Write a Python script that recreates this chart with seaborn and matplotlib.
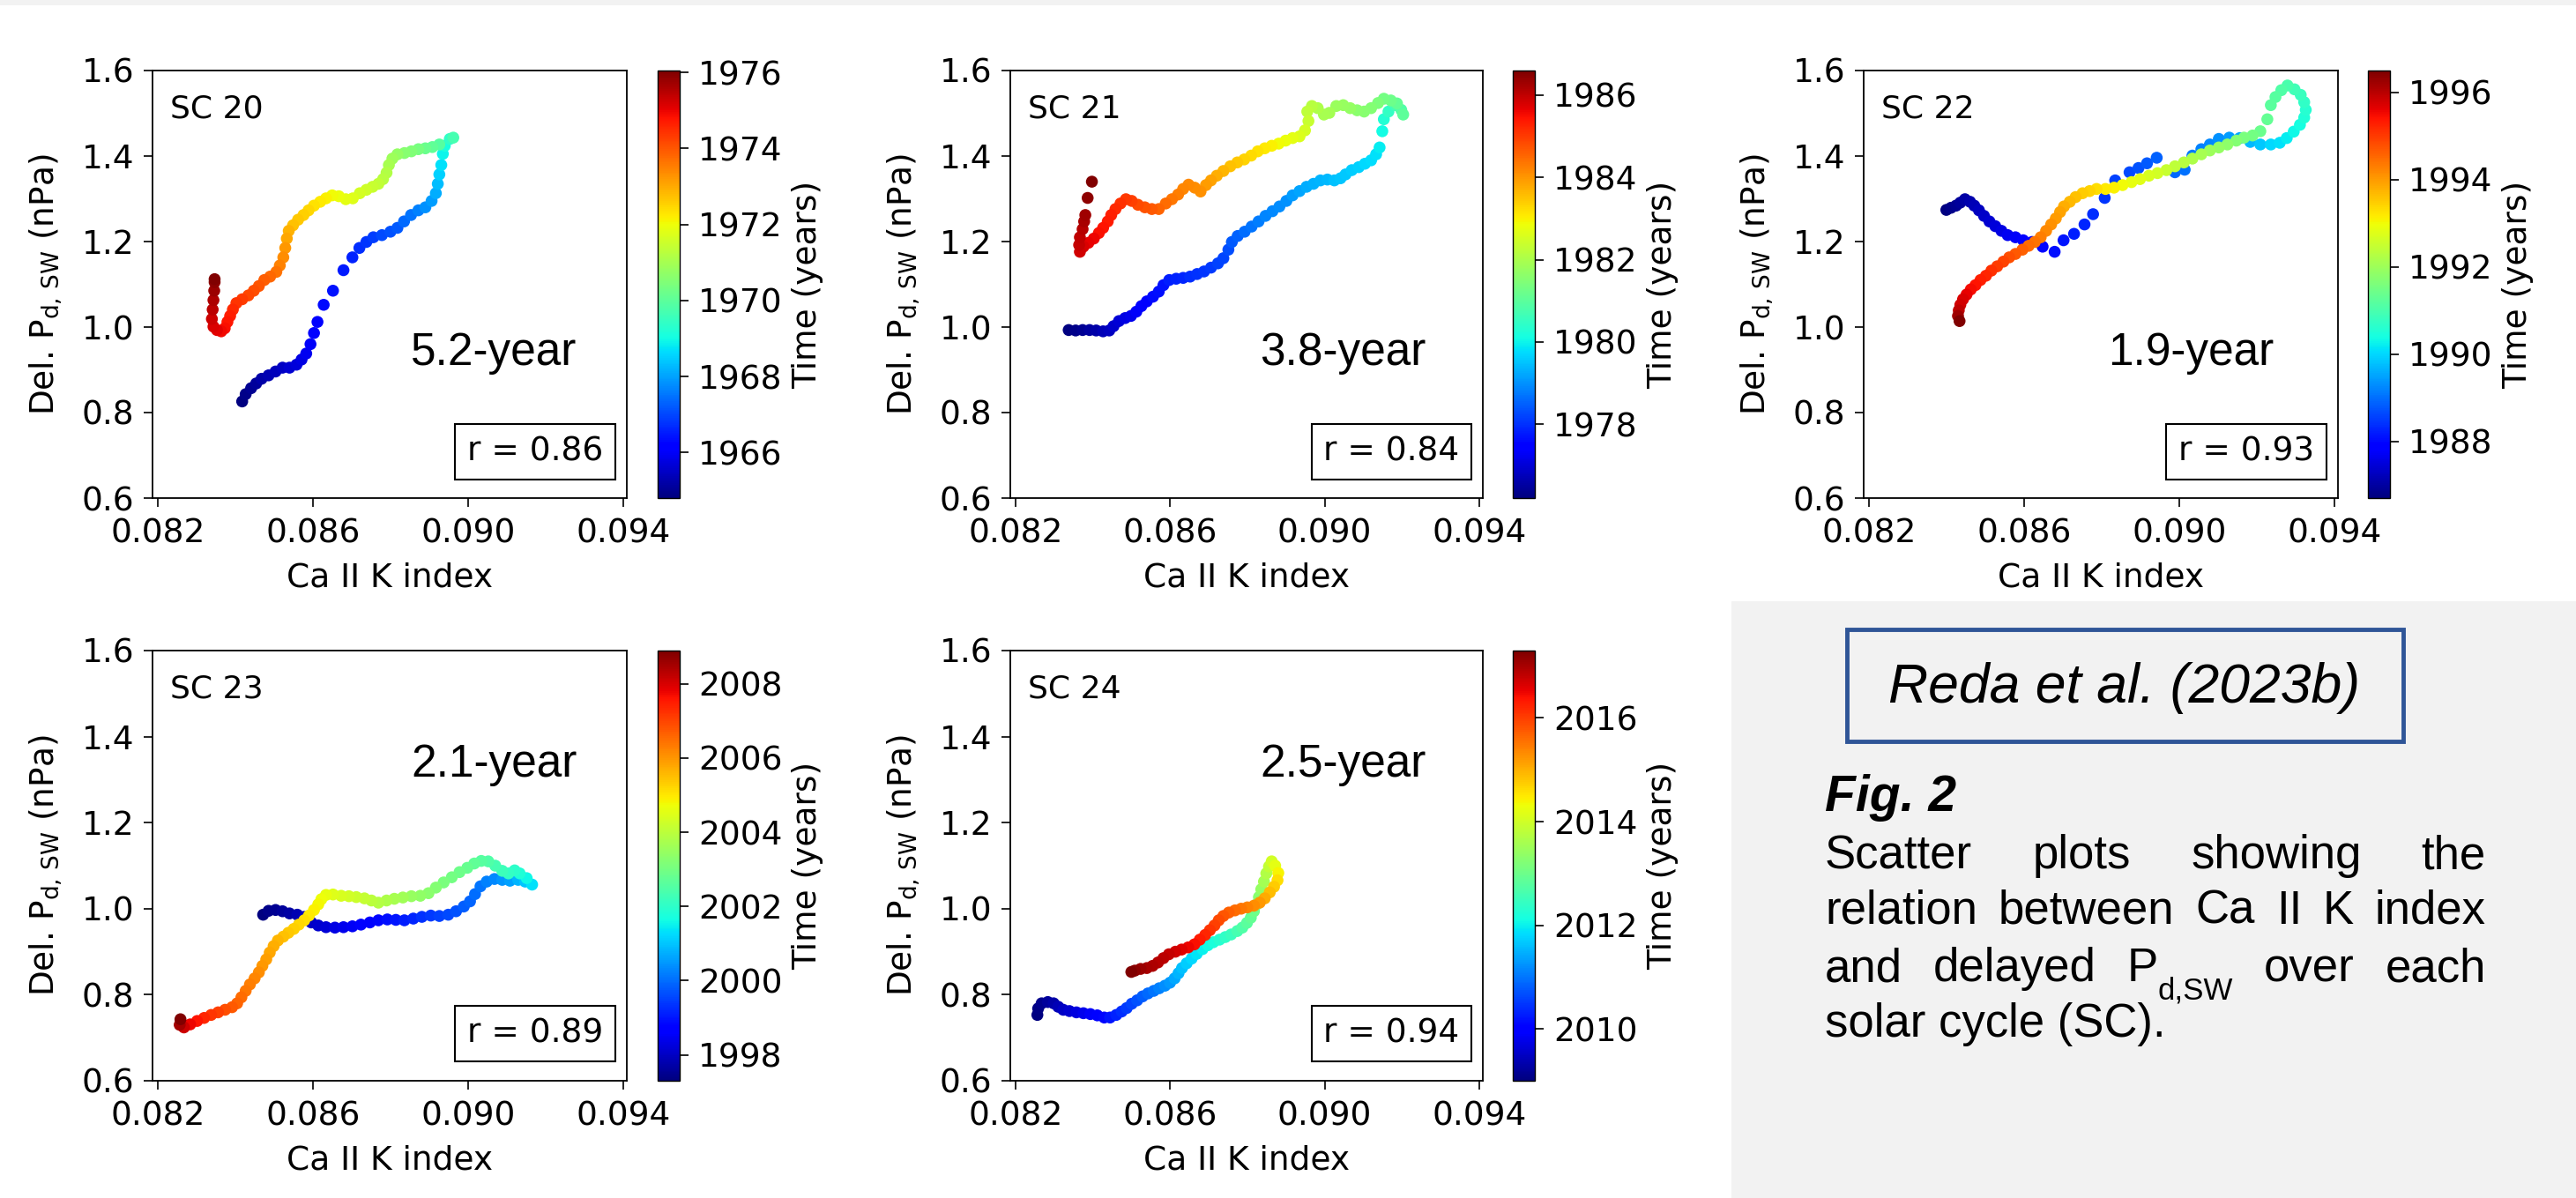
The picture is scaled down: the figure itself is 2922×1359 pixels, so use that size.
import numpy as np
import pandas as pd
import matplotlib
matplotlib.use("Agg")
import matplotlib.pyplot as plt
import seaborn as sns
from matplotlib.colors import Normalize
from matplotlib.cm import ScalarMappable
from matplotlib.patches import Rectangle
from matplotlib.ticker import FormatStrFormatter


# ---- data (Ca II K index, delayed Pd,SW in nPa, time in years) ----

sc20_ca = [0.08418, 0.08427, 0.08441, 0.08454, 0.08468, 0.08486, 0.08504, 0.08522, 0.08540, 0.08558,
           0.08571, 0.08583, 0.08594, 0.08603, 0.08612, 0.08628, 0.08652, 0.08679, 0.08702, 0.08720,
           0.08738, 0.08756, 0.08778, 0.08800, 0.08818, 0.08835, 0.08853, 0.08872, 0.08890, 0.08906,
           0.08917, 0.08922, 0.08926, 0.08931, 0.08935, 0.08940, 0.08953, 0.08962,
           0.08926, 0.08908, 0.08890, 0.08872, 0.08854, 0.08836, 0.08818, 0.08805, 0.08796, 0.08790,
           0.08781, 0.08769, 0.08754, 0.08738, 0.08721, 0.08703, 0.08685, 0.08667, 0.08650, 0.08634,
           0.08619, 0.08603, 0.08589, 0.08576, 0.08562, 0.08549, 0.08538, 0.08533, 0.08529, 0.08524,
           0.08515, 0.08506, 0.08490, 0.08475, 0.08461, 0.08448, 0.08434, 0.08418, 0.08403, 0.08394,
           0.08387, 0.08380, 0.08373, 0.08364, 0.08353, 0.08344, 0.08340, 0.08342, 0.08344, 0.08346,
           0.08347, 0.08347]
sc20_pd = [0.826, 0.843, 0.857, 0.868, 0.879, 0.887, 0.896, 0.905, 0.905, 0.912,
           0.924, 0.938, 0.960, 0.986, 1.012, 1.052, 1.085, 1.133, 1.163, 1.185,
           1.199, 1.210, 1.215, 1.223, 1.232, 1.247, 1.262, 1.273, 1.280, 1.295,
           1.313, 1.335, 1.357, 1.379, 1.405, 1.424, 1.440, 1.443,
           1.427, 1.421, 1.418, 1.416, 1.411, 1.407, 1.404, 1.394, 1.379, 1.361,
           1.346, 1.335, 1.328, 1.321, 1.313, 1.301, 1.299, 1.306, 1.308, 1.301,
           1.293, 1.284, 1.273, 1.262, 1.251, 1.238, 1.225, 1.207, 1.185, 1.163,
           1.144, 1.129, 1.118, 1.110, 1.096, 1.085, 1.074, 1.065, 1.056, 1.041,
           1.026, 1.012, 0.997, 0.990, 0.993, 1.001, 1.019, 1.041, 1.063, 1.085,
           1.105, 1.112]
sc20_t = [1964.8, 1964.9, 1965.0, 1965.1, 1965.2, 1965.3, 1965.4, 1965.5, 1965.6, 1965.7,
          1965.8, 1965.9, 1966.0, 1966.1, 1966.2, 1966.3, 1966.4, 1966.5, 1966.6, 1966.7,
          1966.8, 1966.9, 1967.0, 1967.1, 1967.2, 1967.35, 1967.5, 1967.65, 1967.8, 1967.95,
          1968.1, 1968.3, 1968.5, 1968.7, 1968.9, 1969.1, 1969.4, 1969.7,
          1969.9, 1970.05, 1970.2, 1970.35, 1970.5, 1970.6, 1970.75, 1970.9, 1971.0, 1971.15,
          1971.25, 1971.35, 1971.45, 1971.55, 1971.65, 1971.75, 1971.85, 1971.95, 1972.05, 1972.15,
          1972.25, 1972.35, 1972.45, 1972.55, 1972.65, 1972.75, 1972.9, 1973.05, 1973.2, 1973.35,
          1973.5, 1973.65, 1973.8, 1973.9, 1974.0, 1974.1, 1974.2, 1974.3, 1974.4, 1974.55,
          1974.65, 1974.75, 1974.85, 1974.95, 1975.05, 1975.15, 1975.3, 1975.45, 1975.6, 1975.75,
          1975.9, 1976.05]

sc21_ca = [0.08338, 0.08356, 0.08374, 0.08392, 0.08409, 0.08427, 0.08443, 0.08454, 0.08468, 0.08484,
           0.08499, 0.08513, 0.08526, 0.08540, 0.08556, 0.08571, 0.08583, 0.08598, 0.08616, 0.08634,
           0.08652, 0.08670, 0.08688, 0.08706, 0.08724, 0.08738, 0.08751, 0.08760, 0.08775, 0.08793,
           0.08811, 0.08829, 0.08847, 0.08865, 0.08883, 0.08901, 0.08917, 0.08935, 0.08953, 0.08971,
           0.08989, 0.09007, 0.09025, 0.09041, 0.09054, 0.09070, 0.09088, 0.09104, 0.09120, 0.09133,
           0.09142, 0.09149, 0.09153, 0.09165, 0.09183, 0.09198, 0.09203,
           0.09187, 0.09171, 0.09153, 0.09138, 0.09120, 0.09102, 0.09084, 0.09066, 0.09048, 0.09030,
           0.09012, 0.08998, 0.08982, 0.08967, 0.08955, 0.08958, 0.08949, 0.08935, 0.08917, 0.08899,
           0.08881, 0.08863, 0.08845, 0.08827, 0.08810, 0.08792, 0.08774, 0.08756, 0.08738, 0.08721,
           0.08706, 0.08693, 0.08679, 0.08664, 0.08648, 0.08634, 0.08621, 0.08605, 0.08589, 0.08571,
           0.08553, 0.08535, 0.08517, 0.08501, 0.08486, 0.08472, 0.08459, 0.08448, 0.08439, 0.08427,
           0.08416, 0.08403, 0.08389, 0.08376, 0.08367, 0.08365, 0.08367, 0.08374, 0.08378, 0.08381,
           0.08387, 0.08398]
sc21_pd = [0.993, 0.992, 0.993, 0.993, 0.992, 0.990, 0.992, 1.002, 1.014, 1.021,
           1.026, 1.036, 1.049, 1.060, 1.071, 1.083, 1.098, 1.110, 1.113, 1.115,
           1.118, 1.124, 1.130, 1.139, 1.149, 1.161, 1.181, 1.199, 1.213, 1.223,
           1.235, 1.247, 1.260, 1.271, 1.282, 1.295, 1.308, 1.318, 1.328, 1.335,
           1.343, 1.345, 1.343, 1.348, 1.357, 1.367, 1.374, 1.382, 1.390, 1.404,
           1.420, 1.458, 1.486, 1.504, 1.519, 1.508, 1.497,
           1.523, 1.530, 1.534, 1.524, 1.512, 1.504, 1.507, 1.512, 1.519, 1.517,
           1.501, 1.497, 1.512, 1.517, 1.504, 1.482, 1.460, 1.446, 1.442, 1.436,
           1.429, 1.424, 1.418, 1.411, 1.401, 1.392, 1.385, 1.376, 1.365, 1.354,
           1.343, 1.332, 1.317, 1.326, 1.333, 1.323, 1.310, 1.299, 1.289, 1.276,
           1.276, 1.280, 1.286, 1.295, 1.299, 1.289, 1.276, 1.262, 1.247, 1.232,
           1.220, 1.207, 1.197, 1.188, 1.176, 1.192, 1.210, 1.229, 1.247, 1.262,
           1.302, 1.340]
sc21_t = [1976.2, 1976.3, 1976.4, 1976.5, 1976.6, 1976.7, 1976.8, 1976.9, 1977.0, 1977.1,
          1977.2, 1977.3, 1977.4, 1977.5, 1977.6, 1977.65, 1977.7, 1977.8, 1977.85, 1977.9,
          1977.95, 1978.0, 1978.05, 1978.1, 1978.15, 1978.2, 1978.3, 1978.4, 1978.5, 1978.6,
          1978.7, 1978.8, 1978.85, 1978.9, 1978.95, 1979.0, 1979.1, 1979.2, 1979.25, 1979.3,
          1979.35, 1979.4, 1979.45, 1979.5, 1979.55, 1979.6, 1979.65, 1979.7, 1979.75, 1979.8,
          1979.9, 1980.1, 1980.3, 1980.5, 1980.7, 1980.85, 1981.0,
          1981.1, 1981.2, 1981.3, 1981.4, 1981.5, 1981.55, 1981.6, 1981.7, 1981.75, 1981.8,
          1981.9, 1981.95, 1982.05, 1982.15, 1982.25, 1982.35, 1982.5, 1982.6, 1982.7, 1982.8,
          1982.9, 1983.0, 1983.1, 1983.15, 1983.25, 1983.35, 1983.45, 1983.55, 1983.65, 1983.75,
          1983.85, 1983.95, 1984.05, 1984.1, 1984.15, 1984.2, 1984.25, 1984.35, 1984.45, 1984.55,
          1984.65, 1984.75, 1984.85, 1984.95, 1985.05, 1985.1, 1985.2, 1985.3, 1985.35, 1985.45,
          1985.5, 1985.6, 1985.65, 1985.75, 1985.85, 1985.95, 1986.0, 1986.1, 1986.2, 1986.3,
          1986.45, 1986.6]

sc22_ca = [0.08400, 0.08412, 0.08425, 0.08436, 0.08448, 0.08461, 0.08472, 0.08484, 0.08497, 0.08511,
           0.08526, 0.08542, 0.08558, 0.08578, 0.08598, 0.08621, 0.08648, 0.08679, 0.08702, 0.08729,
           0.08756, 0.08778, 0.08808, 0.08835, 0.08872, 0.08895, 0.08917, 0.08942, 0.08989, 0.09014,
           0.09034, 0.09057, 0.09079, 0.09102, 0.09129, 0.09156, 0.09183, 0.09209, 0.09236, 0.09259,
           0.09277, 0.09295, 0.09311, 0.09322, 0.09326, 0.09322, 0.09313, 0.09297, 0.09279, 0.09263,
           0.09248, 0.09236, 0.09227, 0.09209, 0.09189, 0.09167, 0.09147, 0.09124, 0.09102, 0.09079,
           0.09057, 0.09034, 0.09012, 0.08989, 0.08967, 0.08944, 0.08922, 0.08899, 0.08877, 0.08854,
           0.08832, 0.08810, 0.08787, 0.08769, 0.08751, 0.08733, 0.08718, 0.08703, 0.08693, 0.08682,
           0.08670, 0.08657, 0.08643, 0.08628, 0.08612, 0.08596, 0.08578, 0.08562, 0.08547, 0.08531,
           0.08516, 0.08502, 0.08488, 0.08475, 0.08463, 0.08452, 0.08443, 0.08436, 0.08432, 0.08430,
           0.08434]
sc22_pd = [1.274, 1.279, 1.284, 1.291, 1.299, 1.293, 1.284, 1.273, 1.260, 1.247,
           1.236, 1.225, 1.215, 1.210, 1.203, 1.199, 1.188, 1.176, 1.203, 1.218,
           1.240, 1.264, 1.302, 1.343, 1.362, 1.372, 1.383, 1.396, 1.362, 1.368,
           1.401, 1.416, 1.427, 1.440, 1.443, 1.442, 1.433, 1.427, 1.427, 1.431,
           1.442, 1.457, 1.473, 1.490, 1.508, 1.526, 1.543, 1.556, 1.565, 1.554,
           1.538, 1.519, 1.486, 1.458, 1.448, 1.443, 1.436, 1.427, 1.420, 1.413,
           1.404, 1.394, 1.385, 1.376, 1.367, 1.360, 1.354, 1.346, 1.339, 1.332,
           1.326, 1.323, 1.323, 1.318, 1.313, 1.304, 1.293, 1.282, 1.269, 1.254,
           1.240, 1.225, 1.210, 1.199, 1.190, 1.181, 1.171, 1.163, 1.153, 1.142,
           1.132, 1.120, 1.110, 1.098, 1.088, 1.076, 1.065, 1.052, 1.039, 1.026,
           1.014]
sc22_t = [1986.7, 1986.78, 1986.86, 1986.94, 1987.02, 1987.1, 1987.18, 1987.26, 1987.34, 1987.42,
          1987.5, 1987.58, 1987.66, 1987.74, 1987.82, 1987.9, 1987.98, 1988.06, 1988.14, 1988.22,
          1988.3, 1988.38, 1988.46, 1988.54, 1988.62, 1988.7, 1988.78, 1988.86, 1988.94, 1989.02,
          1989.1, 1989.18, 1989.26, 1989.34, 1989.45, 1989.55, 1989.7, 1989.85, 1990.0, 1990.1,
          1990.2, 1990.3, 1990.4, 1990.5, 1990.6, 1990.7, 1990.8, 1990.9, 1991.0, 1991.1,
          1991.15, 1991.2, 1991.3, 1991.4, 1991.5, 1991.6, 1991.7, 1991.8, 1991.9, 1992.0,
          1992.1, 1992.2, 1992.3, 1992.4, 1992.5, 1992.6, 1992.7, 1992.8, 1992.9, 1993.0,
          1993.1, 1993.2, 1993.3, 1993.4, 1993.5, 1993.6, 1993.7, 1993.8, 1993.9, 1994.0,
          1994.1, 1994.2, 1994.3, 1994.4, 1994.5, 1994.6, 1994.7, 1994.8, 1994.9, 1995.0,
          1995.1, 1995.2, 1995.3, 1995.4, 1995.5, 1995.6, 1995.7, 1995.8, 1995.95, 1996.2,
          1996.5]

sc23_ca = [0.08472, 0.08486, 0.08504, 0.08522, 0.08540, 0.08560, 0.08578, 0.08596, 0.08614, 0.08634,
           0.08657, 0.08679, 0.08702, 0.08724, 0.08747, 0.08769, 0.08792, 0.08814, 0.08836, 0.08859,
           0.08881, 0.08904, 0.08926, 0.08949, 0.08969, 0.08989, 0.09005, 0.09018, 0.09032, 0.09048,
           0.09068, 0.09088, 0.09108, 0.09129, 0.09147, 0.09165,
           0.09151, 0.09133, 0.09120, 0.09104, 0.09088, 0.09070, 0.09052, 0.09034, 0.09016, 0.08998,
           0.08978, 0.08958, 0.08937, 0.08917, 0.08898, 0.08877, 0.08854, 0.08832, 0.08810, 0.08790,
           0.08769, 0.08751, 0.08733, 0.08712, 0.08693, 0.08673, 0.08652, 0.08634, 0.08622, 0.08614,
           0.08603, 0.08590, 0.08578, 0.08564, 0.08551, 0.08537, 0.08524, 0.08510, 0.08499, 0.08489,
           0.08480, 0.08470, 0.08461, 0.08450, 0.08438, 0.08427, 0.08416, 0.08405, 0.08392, 0.08374,
           0.08356, 0.08338, 0.08320, 0.08302, 0.08284, 0.08268, 0.08257, 0.08259]
sc23_pd = [0.986, 0.995, 0.997, 0.994, 0.989, 0.986, 0.981, 0.968, 0.961, 0.957,
           0.956, 0.957, 0.959, 0.963, 0.968, 0.973, 0.975, 0.974, 0.973, 0.977,
           0.981, 0.984, 0.983, 0.986, 0.994, 1.005, 1.017, 1.034, 1.052, 1.063,
           1.069, 1.067, 1.065, 1.067, 1.063, 1.056,
           1.071, 1.082, 1.089, 1.082, 1.088, 1.100, 1.110, 1.111, 1.105, 1.095,
           1.085, 1.073, 1.061, 1.049, 1.036, 1.030, 1.029, 1.026, 1.023, 1.019,
           1.014, 1.019, 1.024, 1.027, 1.029, 1.030, 1.033, 1.032, 1.022, 1.010,
           0.997, 0.984, 0.973, 0.963, 0.953, 0.944, 0.935, 0.926, 0.913, 0.898,
           0.882, 0.867, 0.852, 0.838, 0.824, 0.809, 0.794, 0.780, 0.771, 0.765,
           0.759, 0.753, 0.746, 0.739, 0.731, 0.724, 0.730, 0.743]
sc23_t = [1997.3, 1997.4, 1997.5, 1997.6, 1997.7, 1997.8, 1997.9, 1998.0, 1998.1, 1998.2,
          1998.3, 1998.4, 1998.5, 1998.6, 1998.7, 1998.8, 1998.9, 1999.0, 1999.1, 1999.2,
          1999.3, 1999.4, 1999.5, 1999.6, 1999.7, 1999.8, 1999.9, 2000.0, 2000.1, 2000.2,
          2000.3, 2000.45, 2000.6, 2000.8, 2001.0, 2001.3,
          2001.6, 2001.8, 2002.0, 2002.1, 2002.2, 2002.35, 2002.5, 2002.6, 2002.7, 2002.8,
          2002.9, 2003.0, 2003.1, 2003.2, 2003.3, 2003.4, 2003.5, 2003.6, 2003.7, 2003.8,
          2003.9, 2004.0, 2004.1, 2004.2, 2004.3, 2004.4, 2004.5, 2004.6, 2004.7, 2004.8,
          2004.9, 2005.0, 2005.1, 2005.2, 2005.3, 2005.4, 2005.5, 2005.6, 2005.7, 2005.8,
          2005.9, 2006.0, 2006.1, 2006.2, 2006.3, 2006.4, 2006.5, 2006.6, 2006.75, 2006.9,
          2007.05, 2007.2, 2007.4, 2007.6, 2007.8, 2008.1, 2008.5, 2008.9]

sc24_ca = [0.08257, 0.08259, 0.08268, 0.08284, 0.08299, 0.08311, 0.08324, 0.08340, 0.08358, 0.08376,
           0.08394, 0.08412, 0.08430, 0.08445, 0.08461, 0.08475, 0.08488, 0.08501, 0.08515, 0.08529,
           0.08543, 0.08558, 0.08572, 0.08587, 0.08600, 0.08612, 0.08622, 0.08631, 0.08643, 0.08656,
           0.08669, 0.08684, 0.08698, 0.08712, 0.08728, 0.08743, 0.08758, 0.08774, 0.08787, 0.08799,
           0.08809, 0.08817, 0.08824, 0.08830, 0.08836, 0.08843, 0.08849, 0.08856, 0.08863, 0.08872,
           0.08880, 0.08878, 0.08869, 0.08858, 0.08845, 0.08832, 0.08817, 0.08800, 0.08784, 0.08768,
           0.08752, 0.08738, 0.08726, 0.08715, 0.08703, 0.08691, 0.08677, 0.08663, 0.08647, 0.08630,
           0.08614, 0.08597, 0.08583, 0.08569, 0.08555, 0.08540, 0.08524, 0.08509, 0.08500]
sc24_pd = [0.753, 0.768, 0.780, 0.783, 0.780, 0.772, 0.765, 0.762, 0.759, 0.757,
           0.755, 0.752, 0.747, 0.747, 0.753, 0.761, 0.769, 0.779, 0.787, 0.796,
           0.803, 0.809, 0.815, 0.821, 0.828, 0.838, 0.850, 0.862, 0.873, 0.884,
           0.895, 0.906, 0.915, 0.922, 0.928, 0.934, 0.940, 0.948, 0.956, 0.967,
           0.979, 0.994, 1.010, 1.027, 1.045, 1.063, 1.082, 1.098, 1.110, 1.100,
           1.083, 1.066, 1.051, 1.038, 1.024, 1.014, 1.007, 1.003, 1.000, 0.996,
           0.991, 0.983, 0.973, 0.961, 0.950, 0.939, 0.928, 0.917, 0.910, 0.905,
           0.900, 0.894, 0.885, 0.875, 0.867, 0.862, 0.860, 0.856, 0.853]
sc24_t = [2009.0, 2009.05, 2009.1, 2009.2, 2009.3, 2009.4, 2009.5, 2009.6, 2009.7, 2009.8,
          2009.9, 2010.0, 2010.1, 2010.2, 2010.3, 2010.4, 2010.5, 2010.6, 2010.7, 2010.8,
          2010.9, 2011.0, 2011.1, 2011.2, 2011.3, 2011.4, 2011.5, 2011.6, 2011.7, 2011.8,
          2011.9, 2012.0, 2012.1, 2012.2, 2012.3, 2012.4, 2012.5, 2012.6, 2012.7, 2012.8,
          2012.9, 2013.0, 2013.1, 2013.25, 2013.4, 2013.55, 2013.7, 2013.85, 2014.0, 2014.2,
          2014.4, 2014.6, 2014.75, 2014.9, 2015.05, 2015.2, 2015.3, 2015.4, 2015.5, 2015.6,
          2015.7, 2015.8, 2015.9, 2016.0, 2016.1, 2016.2, 2016.3, 2016.4, 2016.5, 2016.6,
          2016.7, 2016.8, 2016.85, 2016.9, 2016.95, 2017.0, 2017.1, 2017.2, 2017.3]

cycle_names = ["SC 20", "SC 21", "SC 22", "SC 23", "SC 24"]
periods = ["5.2-year", "3.8-year", "1.9-year", "2.1-year", "2.5-year"]
r_values = [0.86, 0.84, 0.93, 0.89, 0.94]
cbar_ticks = [[1966, 1968, 1970, 1972, 1974, 1976],
              [1978, 1980, 1982, 1984, 1986],
              [1988, 1990, 1992, 1994, 1996],
              [1998, 2000, 2002, 2004, 2006, 2008],
              [2010, 2012, 2014, 2016]]
x_ticks = [0.082, 0.086, 0.090, 0.094]
y_ticks = [0.6, 0.8, 1.0, 1.2, 1.4, 1.6]

citation = "Reda et al. (2023b)"
fig_title = "Fig. 2"
caption_lines = [["Scatter", "plots", "showing", "the"],
                 ["relation", "between", "Ca", "II", "K", "index"],
                 ["and", "delayed", ("P", "d,SW"), "over", "each"]]
caption_last = "solar cycle (SC)."

ca_all = [sc20_ca, sc21_ca, sc22_ca, sc23_ca, sc24_ca]
pd_all = [sc20_pd, sc21_pd, sc22_pd, sc23_pd, sc24_pd]
t_all = [sc20_t, sc21_t, sc22_t, sc23_t, sc24_t]


# ---- style ----
sns.set_style("ticks", {"axes.edgecolor": "black", "xtick.color": "black",
                        "ytick.color": "black", "text.color": "black",
                        "axes.labelcolor": "black"})
plt.rcParams["font.family"] = ["DejaVu Sans"]
plt.rcParams["mathtext.fontset"] = "dejavusans"

jet = matplotlib.colormaps["jet"]

W, H = 2922, 1359
fig = plt.figure(figsize=(W / 100, H / 100), dpi=100)
fig.patch.set_facecolor("white")

# panel boxes in pixels (left, top, right, bottom) and colorbar left edges
boxes = [(173, 80, 711, 565), (1146, 80, 1682, 565), (2114, 80, 2652, 565),
         (173, 738, 711, 1226), (1146, 738, 1682, 1226)]
cbar_left = [746, 1716, 2686, 746, 1716]
period_pos = [(0.545, 0.311), (0.528, 0.311), (0.515, 0.311), (0.545, 0.707), (0.528, 0.707)]

FS = 27

for i in range(5):
    x0, y0, x1, y1 = boxes[i]
    ax = fig.add_axes([x0 / W, 1 - y1 / H, (x1 - x0) / W, (y1 - y0) / H])
    df = pd.DataFrame({"ca": ca_all[i], "pd": pd_all[i], "t": t_all[i]})
    norm = Normalize(df["t"].min(), df["t"].max())

    sns.scatterplot(data=df, x="ca", y="pd", hue="t", palette=jet, hue_norm=norm,
                    s=95, linewidth=0, legend=False, ax=ax)

    ax.set_xlim(0.08187, 0.09409)
    ax.set_ylim(0.6, 1.6)
    ax.set_xticks(x_ticks)
    ax.set_yticks(y_ticks)
    ax.xaxis.set_major_formatter(FormatStrFormatter("%.3f"))
    ax.yaxis.set_major_formatter(FormatStrFormatter("%.1f"))
    ax.tick_params(axis="both", direction="out", length=7, width=1.2, labelsize=FS)
    ax.tick_params(axis="x", pad=9)
    ax.tick_params(axis="y", pad=8)
    for sp in ax.spines.values():
        sp.set_linewidth(1.3)
        sp.set_color("black")

    ax.set_xlabel("Ca II K index", fontsize=FS, labelpad=10)
    ax.set_ylabel(r"Del. P$_{\mathrm{d,\,SW}}$ (nPa)", fontsize=FS, labelpad=14)

    ax.text(0.037, 0.89, cycle_names[i], transform=ax.transAxes, fontsize=FS - 1,
            ha="left", va="baseline")
    px, py = period_pos[i]
    ax.text(px, py, periods[i], transform=ax.transAxes, fontsize=37,
            family="Liberation Sans", ha="left", va="baseline")
    ax.text(0.950, 0.072, f"r = {r_values[i]:.2f}", transform=ax.transAxes,
            fontsize=FS, ha="right", va="bottom",
            bbox=dict(boxstyle="square,pad=0.36", facecolor="white",
                      edgecolor="black", linewidth=1.5))

    # colorbar
    cax = fig.add_axes([cbar_left[i] / W, 1 - y1 / H, 25 / W, (y1 - y0) / H])
    sm = ScalarMappable(norm=norm, cmap=jet)
    cb = fig.colorbar(sm, cax=cax, ticks=cbar_ticks[i])
    cb.outline.set_linewidth(1.0)
    cax.tick_params(labelsize=FS, length=7, width=1.2, pad=8)
    cb.set_label("Time (years)", fontsize=FS, labelpad=8)


# ---- right-hand text panel ----
fig.add_artist(Rectangle((1964 / W, 0), 1 - 1964 / W, 1 - 682 / H, transform=fig.transFigure,
                         facecolor="#f2f2f2", edgecolor="none", zorder=-5))
fig.add_artist(Rectangle((0, 1 - 6 / H), 1, 6 / H, transform=fig.transFigure,
                         facecolor="#f2f2f2", edgecolor="none", zorder=-5))
fig.add_artist(Rectangle((2095 / W, 1 - 841 / H), (2726 - 2095) / W, (841 - 714) / H,
                         transform=fig.transFigure, facecolor="none",
                         edgecolor="#2f5597", linewidth=3.5))

fig.text(2410 / W, 1 - 797 / H, citation, fontsize=45, style="italic",
         family="Liberation Sans", ha="center", va="baseline")
fig.text(2070 / W, 1 - 920 / H, fig_title, fontsize=41, weight="bold", style="italic",
         family="Liberation Sans", ha="left", va="baseline")

renderer = fig.canvas.get_renderer()
CAP = 38
left_px, right_px = 2070, 2820
baselines = [985, 1048, 1113]

for words, base in zip(caption_lines, baselines):
    y = 1 - base / H
    parts = []
    for w in words:
        main, sub = (w, None) if isinstance(w, str) else w
        tm = fig.text(0, y, main, fontsize=CAP, family="Liberation Sans", va="baseline")
        ts = None
        if sub is not None:
            ts = fig.text(0, y - 20 / H, sub, fontsize=CAP * 0.66,
                          family="Liberation Sans", va="baseline")
        parts.append((tm, ts))
    widths = []
    for tm, ts in parts:
        wd = tm.get_window_extent(renderer).width
        if ts is not None:
            wd += ts.get_window_extent(renderer).width
        widths.append(wd)
    gap = (right_px - left_px - sum(widths)) / (len(parts) - 1)
    xpos = left_px
    for (tm, ts), wd in zip(parts, widths):
        tm.set_x(xpos / W)
        if ts is not None:
            ts.set_x((xpos + tm.get_window_extent(renderer).width) / W)
        xpos += wd + gap

fig.text(left_px / W, 1 - 1176 / H, caption_last, fontsize=CAP,
         family="Liberation Sans", ha="left", va="baseline")

fig.savefig("out.png", dpi=100)
